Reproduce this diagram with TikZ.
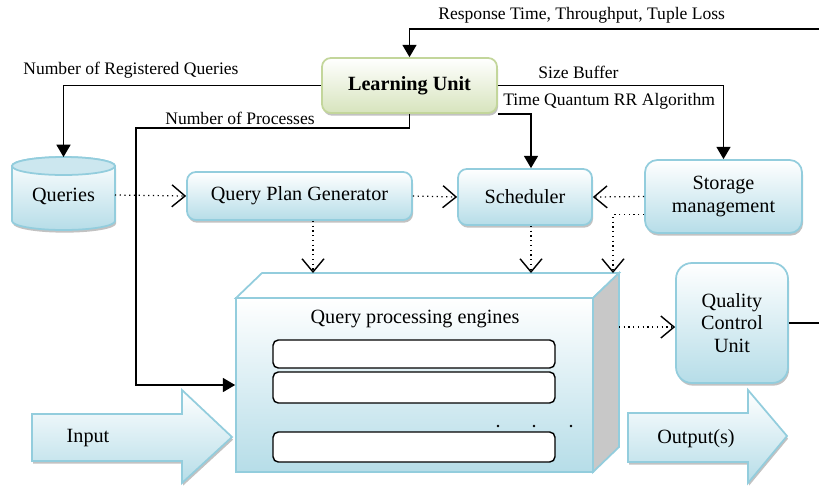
\documentclass[tikz,border=0pt]{standalone}
\usepackage{fontspec}
\setmainfont{Liberation Serif}
\usetikzlibrary{arrows.meta, shadows}
\definecolor{edgeblue}{HTML}{93CDDD}
\definecolor{fillblue}{HTML}{B6DDE8}
\definecolor{edgegreen}{HTML}{C3D69B}
\definecolor{fillgreen}{HTML}{D7E4BD}
\definecolor{sidegray}{HTML}{C8C8C8}
\tikzstyle{boxshadow} = [drop shadow={shadow xshift=0.6pt, shadow yshift=-1.5pt, fill=gray!80, opacity=0.6}]
\tikzstyle{unit} = [rectangle, rounded corners=5pt, draw=edgeblue, line width=1pt, top color=white, bottom color=fillblue, boxshadow, font=\fontsize{11.5}{13}\selectfont, align=center, inner sep=0pt]
\tikzstyle{lunit} = [unit, draw=edgegreen, bottom color=fillgreen, font=\fontsize{11.5}{13}\selectfont\bfseries]
\tikzstyle{engine} = [rectangle, rounded corners=3pt, draw=black, line width=0.8pt, fill=white, inner sep=0pt, minimum width=5.64cm]
\tikzstyle{bigarrow} = [draw=edgeblue, line width=1pt, top color=white, bottom color=fillblue, boxshadow]
\tikzstyle{lbl} = [font=\fontsize{10}{12}\selectfont, inner sep=0pt, anchor=west]
\tikzstyle{txt} = [font=\fontsize{11.5}{13}\selectfont, inner sep=0pt, align=center]
\tikzstyle{arrow} = [line width=0.8pt, -{Triangle[length=7pt, width=8pt]}]
\tikzstyle{flow} = [dotted, line width=0.7pt, -{Straight Barb[length=7.5pt, width=12.5pt, line width=0.8pt]}]

\begin{document}
\begin{tikzpicture}[x=0.02cm, y=-0.02cm]
    \useasboundingbox (0,0) rectangle (819,485);

    % boxes
    \node[lunit, minimum width=3.5cm, minimum height=1.1cm] (lu) at (409.5,85.5) {Learning Unit};
    \node[unit, minimum width=4.5cm, minimum height=0.96cm] (qpg) at (299.5,196) {Query Plan Generator};
    \node[unit, minimum width=2.68cm, minimum height=1.12cm] (sched) at (525,197) {Scheduler};
    \node[unit, rounded corners=7pt, minimum width=3.14cm, minimum height=1.46cm] (storage) at (723.5,196.5) {Storage\\management};
    \node[unit, rounded corners=9pt, minimum width=2.24cm, minimum height=2.4cm] (qcu) at (732,323) {Quality\\Control\\Unit};

    % queries cylinder
    \path[draw=edgeblue, line width=1pt, top color=white, bottom color=fillblue, boxshadow]
        (12,166) -- (12,221) arc[start angle=180, end angle=0, x radius=51.5, y radius=9]
        -- (115,166) arc[start angle=0, end angle=-180, x radius=51.5, y radius=9] -- cycle;
    \draw[edgeblue, line width=1pt, fill=fillblue!70] (63.5,166) ellipse[x radius=51.5, y radius=9];
    \node[txt] (queries) at (63.5,196) {Queries};
    \coordinate (qtop) at (63.5,157);
    \coordinate (qright) at (115,195);

    % processing engines block
    \draw[edgeblue, line width=1pt, fill=white] (236,298) -- (262,273) -- (619,273) -- (593,298) -- cycle;
    \draw[edgeblue, line width=1pt, fill=sidegray] (593,298) -- (619,273) -- (619,447) -- (593,472) -- cycle;
    \node[rectangle, draw=edgeblue, line width=1pt, top color=white, bottom color=fillblue,
        minimum width=7.14cm, minimum height=3.48cm, inner sep=0pt] (engines) at (414.5,385) {};
    \node[txt] (enginelbl) at (415,319) {Query processing engines};
    \node[engine, minimum height=0.56cm] (proc1) at (414,354) {};
    \node[engine, minimum height=0.62cm] (proc2) at (414,387.5) {};
    \node[engine, minimum height=0.6cm] (procn) at (414,447) {};
    \foreach \x in {498,534,571}
        \fill (\x,426) circle (1.3);
    \coordinate (cubetop) at (262,273);
    \coordinate (qpgdrop) at (313,273);
    \coordinate (scheddrop) at (531,273);
    \coordinate (stordrop) at (613,273);
    \coordinate (cubeout) at (619,327);

    % input / output arrows
    \path[bigarrow] (32,414) -- (182,414) -- (182,390) -- (232,437) -- (182,483) -- (182,461) -- (32,461) -- cycle;
    \node[txt] (input) at (88,438) {Input};
    \path[bigarrow] (628,413) -- (748,413) -- (748,390) -- (787,436) -- (748,483) -- (748,462) -- (628,462) -- cycle;
    \node[txt] (output) at (696,439) {Output(s)};

    % feedback from learning unit
    \coordinate (rightin) at (819,29);
    \coordinate (rightout) at (819,323);
    \coordinate (pbend) at (136,128);
    \draw[arrow] (rightin) -| (lu.north);
    \draw[arrow] (lu.west) -| (qtop);
    \draw[arrow] (lu.south) |- (pbend) |- (engines.west);
    \draw[arrow] (lu.east) -| (storage.north);
    \draw[arrow] (lu.south east) -| (sched.north -| scheddrop);
    \draw[line width=0.8pt] (qcu.east) -- (rightout);

    % data flow
    \draw[flow] (qright) -- (qpg.west);
    \draw[flow] (qpg.east) -- (sched.west);
    \draw[flow] (storage.west) -- (sched.east);
    \draw[flow] (storage.193) -| (stordrop);
    \draw[flow] (qpg.south -| qpgdrop) -- (qpgdrop);
    \draw[flow] (sched.south -| scheddrop) -- (scheddrop);
    \draw[flow] (cubeout) -- (qcu.west |- cubeout);

    % labels
    \node[lbl] (rtlbl) at (438,15) {Response Time, Throughput, Tuple Loss};
    \node[lbl] (reglbl) at (23,70) {Number of Registered Queries};
    \node[lbl] (proclbl) at (165,118) {Number of Processes};
    \node[lbl] (buflbl) at (538,72) {Size Buffer};
    \node[lbl] (tqlbl) at (503,101) {Time Quantum RR Algorithm};
\end{tikzpicture}
\end{document}
